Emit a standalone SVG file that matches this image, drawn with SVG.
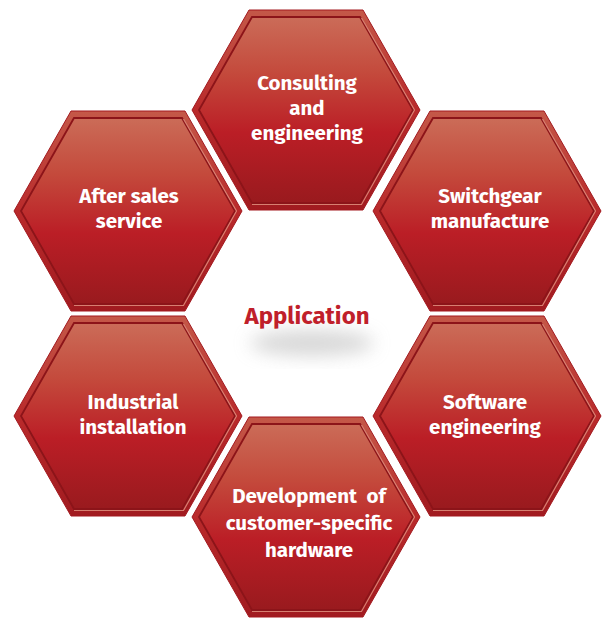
<svg xmlns="http://www.w3.org/2000/svg" xmlns:xlink="http://www.w3.org/1999/xlink" width="603" height="619" viewBox="0 0 603 619">
  <style>
    .lbl { font-family: "Fira Sans", "Liberation Sans", Arial, sans-serif; font-weight: bold; font-size: 20.5px; fill: #ffffff; text-anchor: middle; }
    .title { font-family: "Fira Sans", "Liberation Sans", Arial, sans-serif; font-weight: bold; font-size: 24px; fill: #c01f2b; text-anchor: middle; }
  </style>
  <defs>
    <linearGradient id="hexFill" x1="0" y1="0" x2="0" y2="1">
      <stop offset="0" stop-color="#cb6c58"/>
      <stop offset="0.3" stop-color="#c44a3c"/>
      <stop offset="0.62" stop-color="#bb1e26"/>
      <stop offset="1" stop-color="#991a1e"/>
    </linearGradient>
    <linearGradient id="rimFill" x1="0" y1="0" x2="0" y2="1">
      <stop offset="0" stop-color="#c45848"/>
      <stop offset="0.5" stop-color="#b92a2b"/>
      <stop offset="1" stop-color="#a11b20"/>
    </linearGradient>
    <filter id="blur" x="-50%" y="-50%" width="200%" height="200%">
      <feGaussianBlur stdDeviation="9"/>
    </filter>
    <g id="hex">
      <polygon points="-114,0 -57,-100 57,-100 114,0 57,100 -57,100" fill="url(#rimFill)" stroke="#a3191f" stroke-width="1"/>
      <polygon points="-107,0 -54,-93 54,-93 107,0 54,93 -54,93" fill="url(#hexFill)" stroke="#8c1419" stroke-width="1.8"/>
      <polyline points="55.5,-92 108.5,0 55.5,94.5 -54,94.5" fill="none" stroke="#e0907f" stroke-width="1.2" opacity="0.85"/>
    </g>
  </defs>
  <rect width="603" height="619" fill="#ffffff"/>

  <g id="center">
    <ellipse cx="312" cy="343" rx="62" ry="13" fill="#b8b8b8" opacity="0.55" filter="url(#blur)"/>
    <text class="title" x="307" y="324">Application</text>
  </g>

  <g id="consulting">
    <use xlink:href="#hex" href="#hex" x="306" y="110"/>
    <text class="lbl" x="307" y="90">Consulting</text>
    <text class="lbl" x="307" y="115">and</text>
    <text class="lbl" x="307" y="140">engineering</text>
  </g>

  <g id="switchgear">
    <use xlink:href="#hex" href="#hex" x="487" y="211"/>
    <text class="lbl" x="490" y="203">Switchgear</text>
    <text class="lbl" x="490" y="228">manufacture</text>
  </g>

  <g id="aftersales">
    <use xlink:href="#hex" href="#hex" x="128" y="211"/>
    <text class="lbl" x="129" y="203">After sales</text>
    <text class="lbl" x="129" y="228">service</text>
  </g>

  <g id="industrial">
    <use xlink:href="#hex" href="#hex" x="128" y="416"/>
    <text class="lbl" x="133" y="409">Industrial</text>
    <text class="lbl" x="133" y="434">installation</text>
  </g>

  <g id="software">
    <use xlink:href="#hex" href="#hex" x="487" y="416"/>
    <text class="lbl" x="485" y="409">Software</text>
    <text class="lbl" x="485" y="434">engineering</text>
  </g>

  <g id="hardware">
    <use xlink:href="#hex" href="#hex" x="306" y="517"/>
    <text class="lbl" x="309" y="503" xml:space="preserve">Development  of</text>
    <text class="lbl" x="309" y="530">customer-specific</text>
    <text class="lbl" x="309" y="557">hardware</text>
  </g>
</svg>
